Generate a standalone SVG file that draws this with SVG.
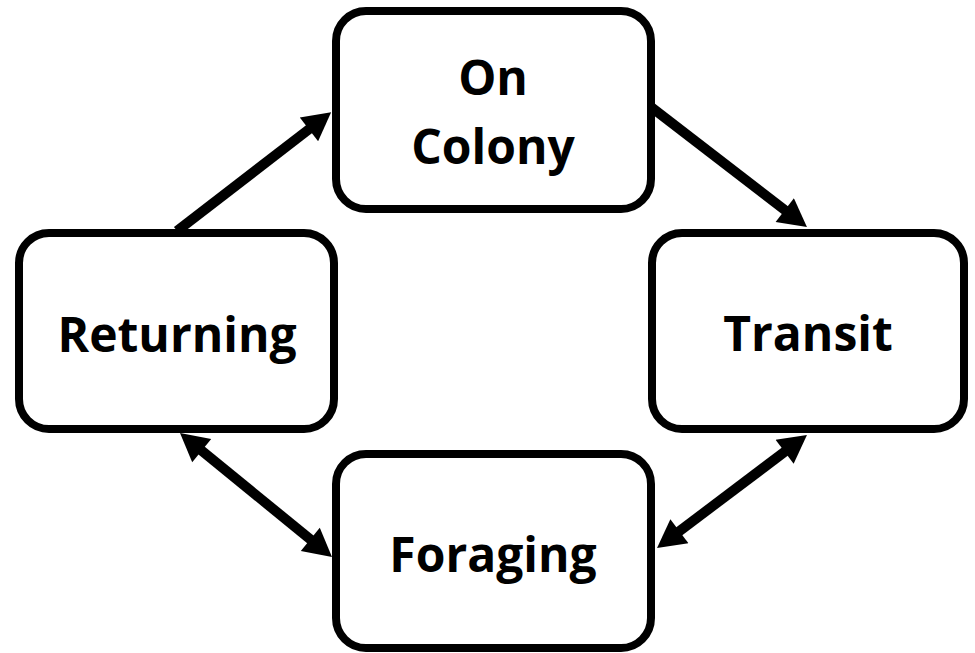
<svg xmlns="http://www.w3.org/2000/svg" width="975" height="653" viewBox="0 0 975 653">
  <style>
    .box { fill: #ffffff; stroke: #000000; stroke-width: 8; }
    .lbl { font-family: "Open Sans", "Noto Sans", "DejaVu Sans", sans-serif; font-weight: bold; font-size: 48px; fill: #000000; text-anchor: middle; }
    .conn { stroke: #000000; stroke-width: 10; fill: none; }
  </style>
  <defs>
    <marker id="ah" markerUnits="userSpaceOnUse" markerWidth="30" markerHeight="30" viewBox="0 0 28 30" refX="8" refY="15" orient="auto-start-reverse">
      <path d="M0,0 L28,15 L0,30 z" fill="#000000"/>
    </marker>
  </defs>
  <rect width="975" height="653" fill="#ffffff"/>
  <g id="connectors">
    <line class="conn" x1="177" y1="231" x2="315.3" y2="124.4" marker-end="url(#ah)"/>
    <line class="conn" x1="651" y1="107" x2="791.1" y2="214.9" marker-end="url(#ah)"/>
    <line class="conn" x1="195.5" y1="445.6" x2="316.5" y2="544.4" marker-start="url(#ah)" marker-end="url(#ah)"/>
    <line class="conn" x1="791" y1="447" x2="673" y2="536" marker-start="url(#ah)" marker-end="url(#ah)"/>
  </g>
  <g id="on-colony">
    <rect class="box" x="336" y="11" width="315" height="198" rx="30" ry="30"/>
    <text class="lbl" x="493" y="95">On</text>
    <text class="lbl" x="493" y="164">Colony</text>
  </g>
  <g id="transit">
    <rect class="box" x="652" y="233" width="312" height="196" rx="30" ry="30"/>
    <text class="lbl" x="808" y="351">Transit</text>
  </g>
  <g id="returning">
    <rect class="box" x="19" y="233" width="315" height="196" rx="30" ry="30"/>
    <text class="lbl" x="177" y="352">Returning</text>
  </g>
  <g id="foraging">
    <rect class="box" x="336" y="454" width="315" height="194" rx="30" ry="30"/>
    <text class="lbl" x="493" y="572">Foraging</text>
  </g>
</svg>
